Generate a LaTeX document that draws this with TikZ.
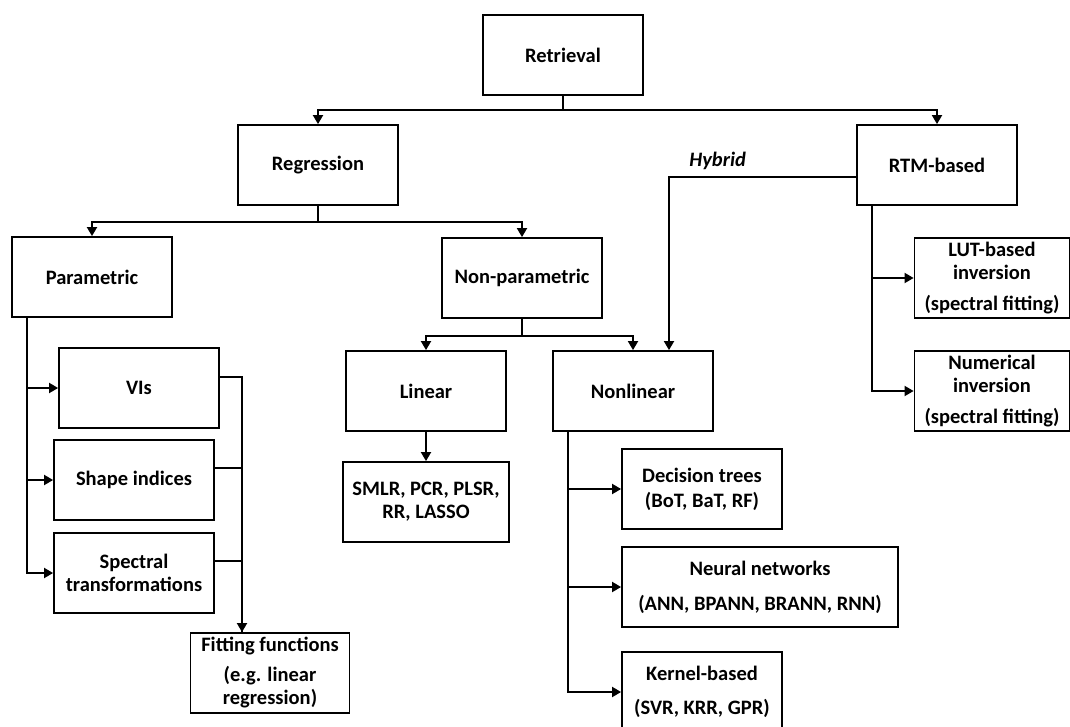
\documentclass[tikz,border=0pt]{standalone}
\usepackage{fontspec}
\setmainfont{Carlito}
\usepackage{tikz}
\usetikzlibrary{positioning, arrows.meta}

\begin{document}
\begin{tikzpicture}[x=1pt,y=-1pt,on grid,line width=1.8pt,
    block/.style={draw,rectangle,align=center,minimum width=160pt,minimum height=80pt,
      inner sep=0pt,font=\fontsize{20.5}{23}\selectfont\bfseries},
    arr/.style={-{Triangle[length=9pt,width=10pt]}}]
  \useasboundingbox (0,0) rectangle (1070,727);

  % top levels
  \node[block] (ret) at (563,55) {Retrieval};
  \node[block] (reg) [below left=110pt and 245pt of ret] {Regression};
  \node[block] (rtm) [below right=110pt and 374pt of ret] {RTM-based};
  \node[block] (par) [below left=112pt and 226pt of reg] {Parametric};
  \node[block] (nonpar) [below right=113pt and 204pt of reg] {Non-parametric};

  % parametric branch
  \node[block] (vis) [below right=111pt and 47pt of par] {VIs};
  \node[block] (shape) [below left=92pt and 5pt of vis] {Shape indices};
  \node[block] (spec) [below=93pt of shape] {Spectral\\transformations};
  \node[block,minimum width=159pt] (fit) [below right=100pt and 136pt of spec]
    {Fitting functions\\[7pt](e.g. linear\\regression)};

  % non-parametric branch
  \node[block] (lin) [below left=113pt and 96pt of nonpar] {Linear};
  \node[block,minimum width=166pt] (smlr) [below=111pt of lin] {SMLR, PCR, PLSR,\\RR, LASSO};
  \node[block] (nonlin) [below right=113pt and 111pt of nonpar] {Nonlinear};
  \node[block] (dec) [below right=98pt and 69pt of nonlin] {Decision trees\\[2pt](BoT, BaT, RF)};
  \node[block,minimum width=276pt] (neur) [below right=98pt and 58pt of dec]
    {Neural networks\\[12pt](ANN, BPANN, BRANN, RNN)};
  \node[block] (kern) [below left=105pt and 58pt of neur] {Kernel-based\\[11pt](SVR, KRR, GPR)};

  % RTM branch
  \node[block,minimum width=155pt] (lut) [below right=113pt and 55pt of rtm]
    {LUT-based\\inversion\\[8pt](spectral fitting)};
  \node[block,minimum width=155pt] (num) [below=113pt of lut]
    {Numerical\\inversion\\[8pt](spectral fitting)};

  \coordinate (ptrunk) at ([xshift=16pt]par.south west);
  \coordinate (ntrunk) at ([xshift=16pt]nonlin.south west);
  \coordinate (rtrunk) at ([xshift=16pt]rtm.south west);
  \coordinate (fjoin) at ([xshift=-28pt]fit.north);

  \draw[arr] (ret.south) -- ++(0,14) -| (reg.north);
  \draw[arr] (ret.south) -- ++(0,14) -| (rtm.north);
  \draw[arr] (reg.south) -- ++(0,16) -| (par.north);
  \draw[arr] (reg.south) -- ++(0,16) -| (nonpar.north);
  \draw[arr] (nonpar.south) -- ++(0,17) -| (lin.north);
  \draw[arr] (nonpar.south) -- ++(0,17) -| (nonlin.north);
  \draw[arr] (lin) -- (smlr);

  \draw[arr] (ptrunk) |- (vis.west);
  \draw[arr] (ptrunk) |- (shape.west);
  \draw[arr] (ptrunk) |- (spec.west);
  \draw[arr] ([yshift=11pt]vis.east) -| (fjoin);
  \draw ([yshift=12pt]shape.east) -| (fjoin);
  \draw ([yshift=12pt]spec.east) -| (fjoin);

  \draw[arr] (ntrunk) |- (dec.west);
  \draw[arr] (ntrunk) |- (neur.west);
  \draw[arr] (ntrunk) |- (kern.west);

  \draw[arr] (rtrunk) |- (lut.west);
  \draw[arr] (rtrunk) |- (num.west);

  % hybrid link
  \draw[arr] ([yshift=-12pt]rtm.west) -| node[pos=0.37,above=6pt,inner sep=0pt,
      font=\fontsize{20.5}{23}\selectfont\bfseries\itshape] (hyb) {Hybrid}
    ([xshift=36pt]nonlin.north);
\end{tikzpicture}
\end{document}
